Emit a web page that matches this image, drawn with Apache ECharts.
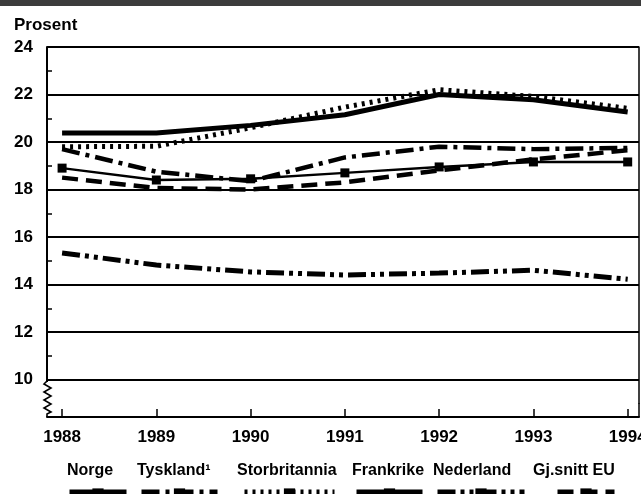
<!DOCTYPE html>
<html>
<head>
<meta charset="utf-8">
<script src="https://cdn.jsdelivr.net/npm/echarts@6/dist/echarts.min.js"></script>
<style>
html,body{margin:0;padding:0;background:#fff;}
#c{width:641px;height:494px;}
</style>
</head>
<body>
<div id="c"></div>
<script>
// ---- data ----
const years = [1988, 1989, 1990, 1991, 1992, 1993, 1994];
const seriesNames = ['Norge', 'Tyskland', 'Storbritannia', 'Frankrike', 'Nederland', 'Gj.snitt EU'];
const norge        = [20.38, 20.38, 20.7, 21.15, 22.0, 21.78, 21.26];
const tyskland     = [19.7, 18.75, 18.35, 19.35, 19.8, 19.7, 19.75];
const storbritannia= [19.8, 19.82, 20.6, 21.47, 22.2, 21.92, 21.42];
const frankrike    = [18.9, 18.4, 18.45, 18.7, 18.95, 19.16, 19.16];
const nederland    = [15.33, 14.82, 14.53, 14.4, 14.48, 14.6, 14.22];
const gjsnittEU    = [18.5, 18.06, 18.0, 18.3, 18.8, 19.27, 19.65];
const yTickLabels  = [10, 12, 14, 16, 18, 20, 22, 24];

const FONT = "'Liberation Sans', Arial, sans-serif";
const pair = arr => years.map((y, i) => [y, arr[i]]);

const styles = {
  'Norge':        {width: 5,   type: 'solid'},
  'Tyskland':     {width: 4.5, type: [18, 6, 4, 6]},
  'Storbritannia':{width: 5,   type: [3, 5]},
  'Frankrike':    {width: 2.5, type: 'solid'},
  'Nederland':    {width: 5,   type: [18, 5, 4, 5, 4, 5]},
  'Gj.snitt EU':  {width: 4.5, type: [16, 8]}
};
const values = {
  'Norge': norge, 'Tyskland': tyskland, 'Storbritannia': storbritannia,
  'Frankrike': frankrike, 'Nederland': nederland, 'Gj.snitt EU': gjsnittEU
};

const series = seriesNames.map(n => ({
  name: n,
  type: 'line',
  data: pair(values[n]),
  smooth: false,
  showSymbol: n === 'Frankrike',
  symbol: 'rect',
  symbolSize: 9,
  itemStyle: {color: '#000'},
  lineStyle: {color: '#000', width: styles[n].width, type: styles[n].type, cap: 'butt'},
  emphasis: {disabled: true},
  animation: false,
  z: 3
}));

// legend layout (text and sample positions)
const legText = {'Norge': 67, 'Tyskland': 137, 'Storbritannia': 237, 'Frankrike': 352, 'Nederland': 433, 'Gj.snitt EU': 533};
const legSample = {'Norge': [65, 57], 'Tyskland': [137, 76], 'Storbritannia': [240, 90], 'Frankrike': [352, 66], 'Nederland': [433, 87], 'Gj.snitt EU': [553, 57]};

const legends = [];
seriesNames.forEach(n => {
  legends.push({
    data: [n], left: legText[n] - 5, top: 463, padding: 0,
    icon: 'none', itemWidth: 0, itemHeight: 0, selectedMode: false,
    formatter: name => name === 'Tyskland' ? 'Tyskland\u00b9' : name,
    textStyle: {fontFamily: FONT, fontSize: 16, fontWeight: 'bold', color: '#000'}
  });
  legends.push({
    data: [n], left: legSample[n][0], top: 487, padding: 0,
    itemWidth: legSample[n][1], itemHeight: 14, selectedMode: false,
    formatter: () => '', textStyle: {fontSize: 1},
    lineStyle: {width: 9}, itemStyle: {color: '#000'}
  });
});

const chart = echarts.init(document.getElementById('c'), null, {renderer: 'canvas'});
chart.setOption({
  animation: false,
  backgroundColor: '#fff',
  grid: {left: 47, right: 2, top: 47, bottom: 90.75, containLabel: false, outerBoundsMode: 'none'},
  xAxis: {
    type: 'value', min: 1987.84, max: 1994.12,
    offset: 13.75,
    axisLine: {show: true, lineStyle: {color: '#000', width: 2}},
    axisTick: {show: true, inside: true, length: 8, lineStyle: {color: '#000', width: 1.5}, customValues: years},
    axisLabel: {show: true, customValues: years, margin: 12, formatter: v => String(v),
      fontFamily: FONT, fontSize: 17, fontWeight: 'bold', color: '#000'},
    splitLine: {show: false}
  },
  yAxis: [{
    type: 'value', min: 9, max: 24, interval: 1,
    axisLine: {show: true, lineStyle: {color: '#000', width: 2}},
    axisTick: {show: true, inside: true, length: 5, lineStyle: {color: '#000', width: 1.5}},
    axisLabel: {margin: 14, formatter: v => (yTickLabels.indexOf(v) >= 0 ? String(v) : ''),
      fontFamily: FONT, fontSize: 17, fontWeight: 'bold', color: '#000'},
    splitLine: {show: true, lineStyle: {color: ['rgba(0,0,0,0)', '#000'], width: 2}}
  }, {
    type: 'value', min: 9, max: 24, interval: 1, position: 'right',
    axisLine: {show: true, lineStyle: {color: '#000', width: 1.5}},
    axisTick: {show: false}, axisLabel: {show: false}, splitLine: {show: false}
  }],
  legend: legends,
  graphic: [
    {type: 'rect', left: 0, top: 0, shape: {width: 641, height: 6}, style: {fill: '#3c3c3c'}, z: 10},
    {type: 'text', left: 14, top: 17, style: {text: 'Prosent', fontFamily: FONT, fontSize: 17, fontWeight: 'bold', fill: '#000'}, z: 10},
    {type: 'rect', shape: {x: 43, y: 382, width: 9, height: 34}, style: {fill: '#fff'}, z: 10},
    {type: 'polyline', shape: {points: [[47,381],[44,384],[51,388],[44,392],[51,396],[44,400],[51,404],[44,408],[51,412],[47,414],[47,417]]},
      style: {stroke: '#000', lineWidth: 1.6, fill: null}, z: 11},
    {type: 'line', shape: {x1: 639, y1: 403, x2: 639, y2: 417}, style: {stroke: '#000', lineWidth: 1.5}, z: 10}
  ],
  series: series
});
</script>
</body>
</html>
